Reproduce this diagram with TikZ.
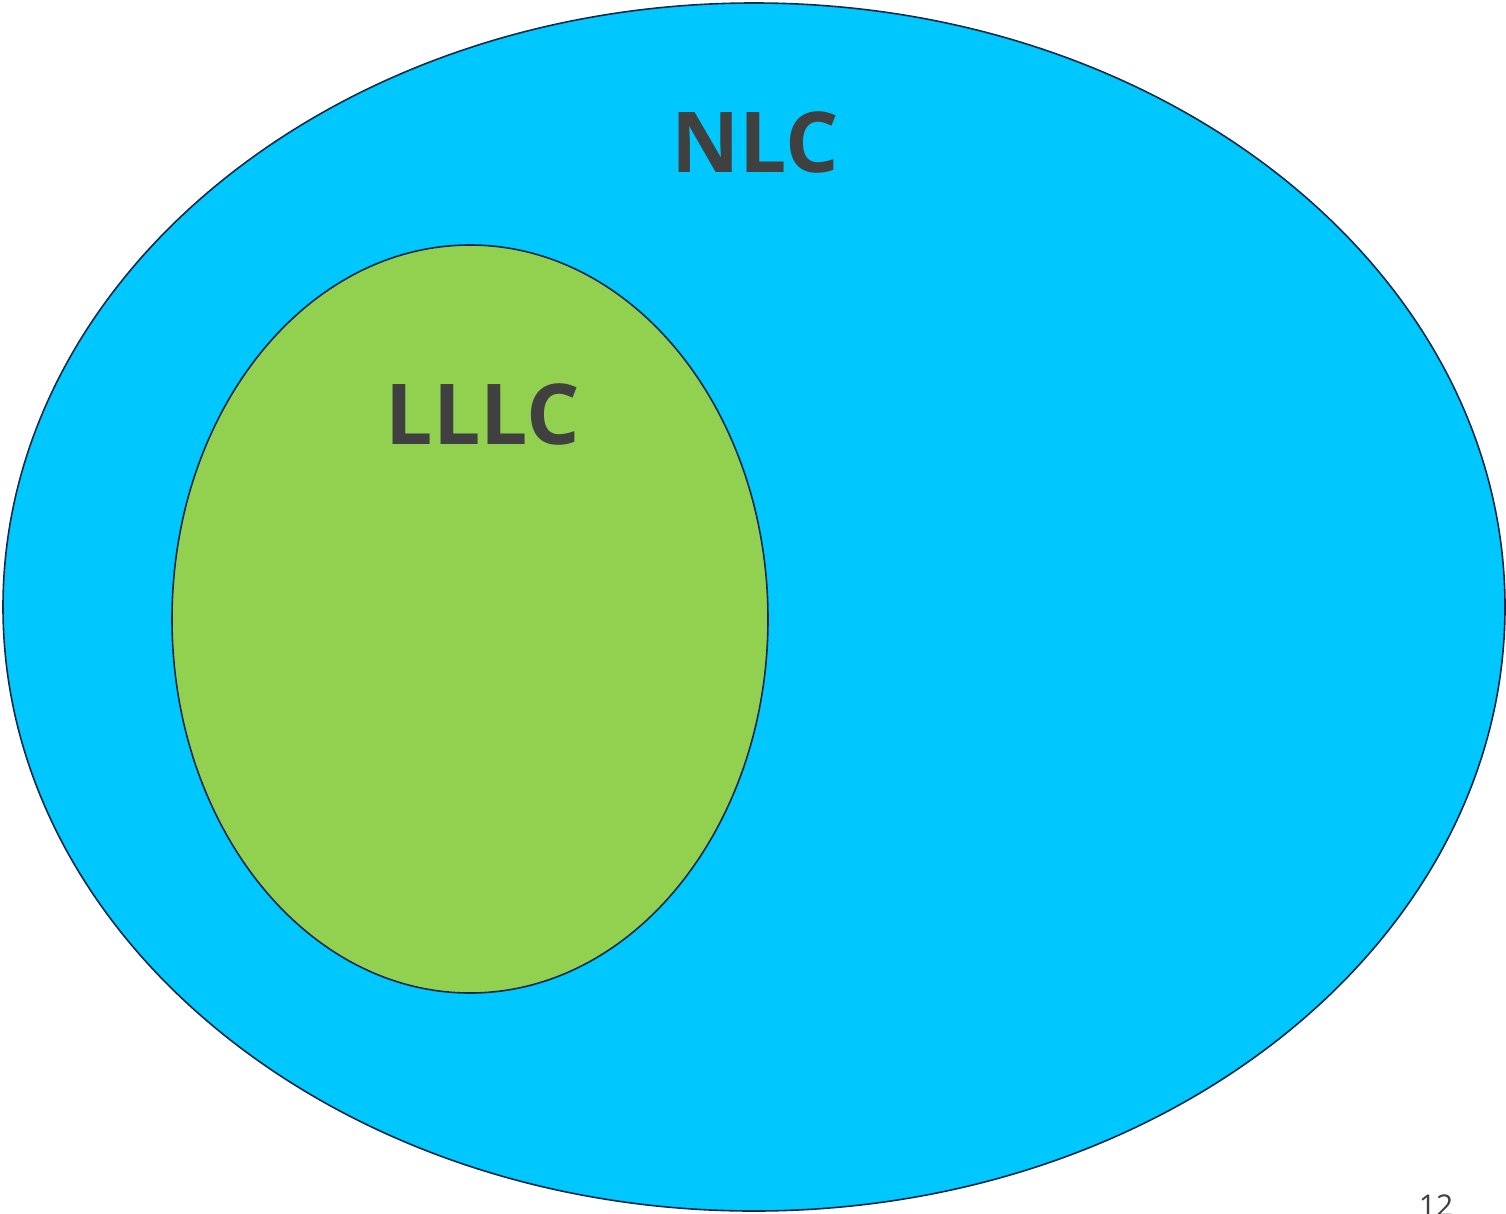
\documentclass[tikz,border=0pt]{standalone}
\usepackage{fontspec}
\setmainfont{Open Sans}
\definecolor{outerblue}{HTML}{00C8FF}
\definecolor{innergreen}{HTML}{92D050}
\definecolor{edge}{HTML}{0D2A4A}
\definecolor{txt}{HTML}{404040}
\tikzset{
  setshape/.style={draw=edge, line width=1.6pt},
  bigtext/.style={text=txt, font=\fontsize{84}{92}\selectfont\bfseries, inner sep=0pt},
}
\begin{document}
\begin{tikzpicture}[x=1pt,y=-1pt]
\useasboundingbox (0,0) rectangle (1506,1213);
\clip (0,0) rectangle (1506,1213);
\fill[white] (0,0) rectangle (1506,1213);
\draw[setshape, fill=outerblue] (754,607) ellipse [x radius=751, y radius=604];
\draw[setshape, fill=innergreen] (470,619) ellipse [x radius=298, y radius=374];
\node[bigtext, anchor=base] (nlc) at (755,172) {NLC};
\node[bigtext, anchor=base] (lllc) at (483,444) {LLLC};
\node[text=txt, font=\fontsize{30}{34}\selectfont, anchor=north, inner sep=0pt] (pg) at (1436,1195) {12};
\end{tikzpicture}
\end{document}
